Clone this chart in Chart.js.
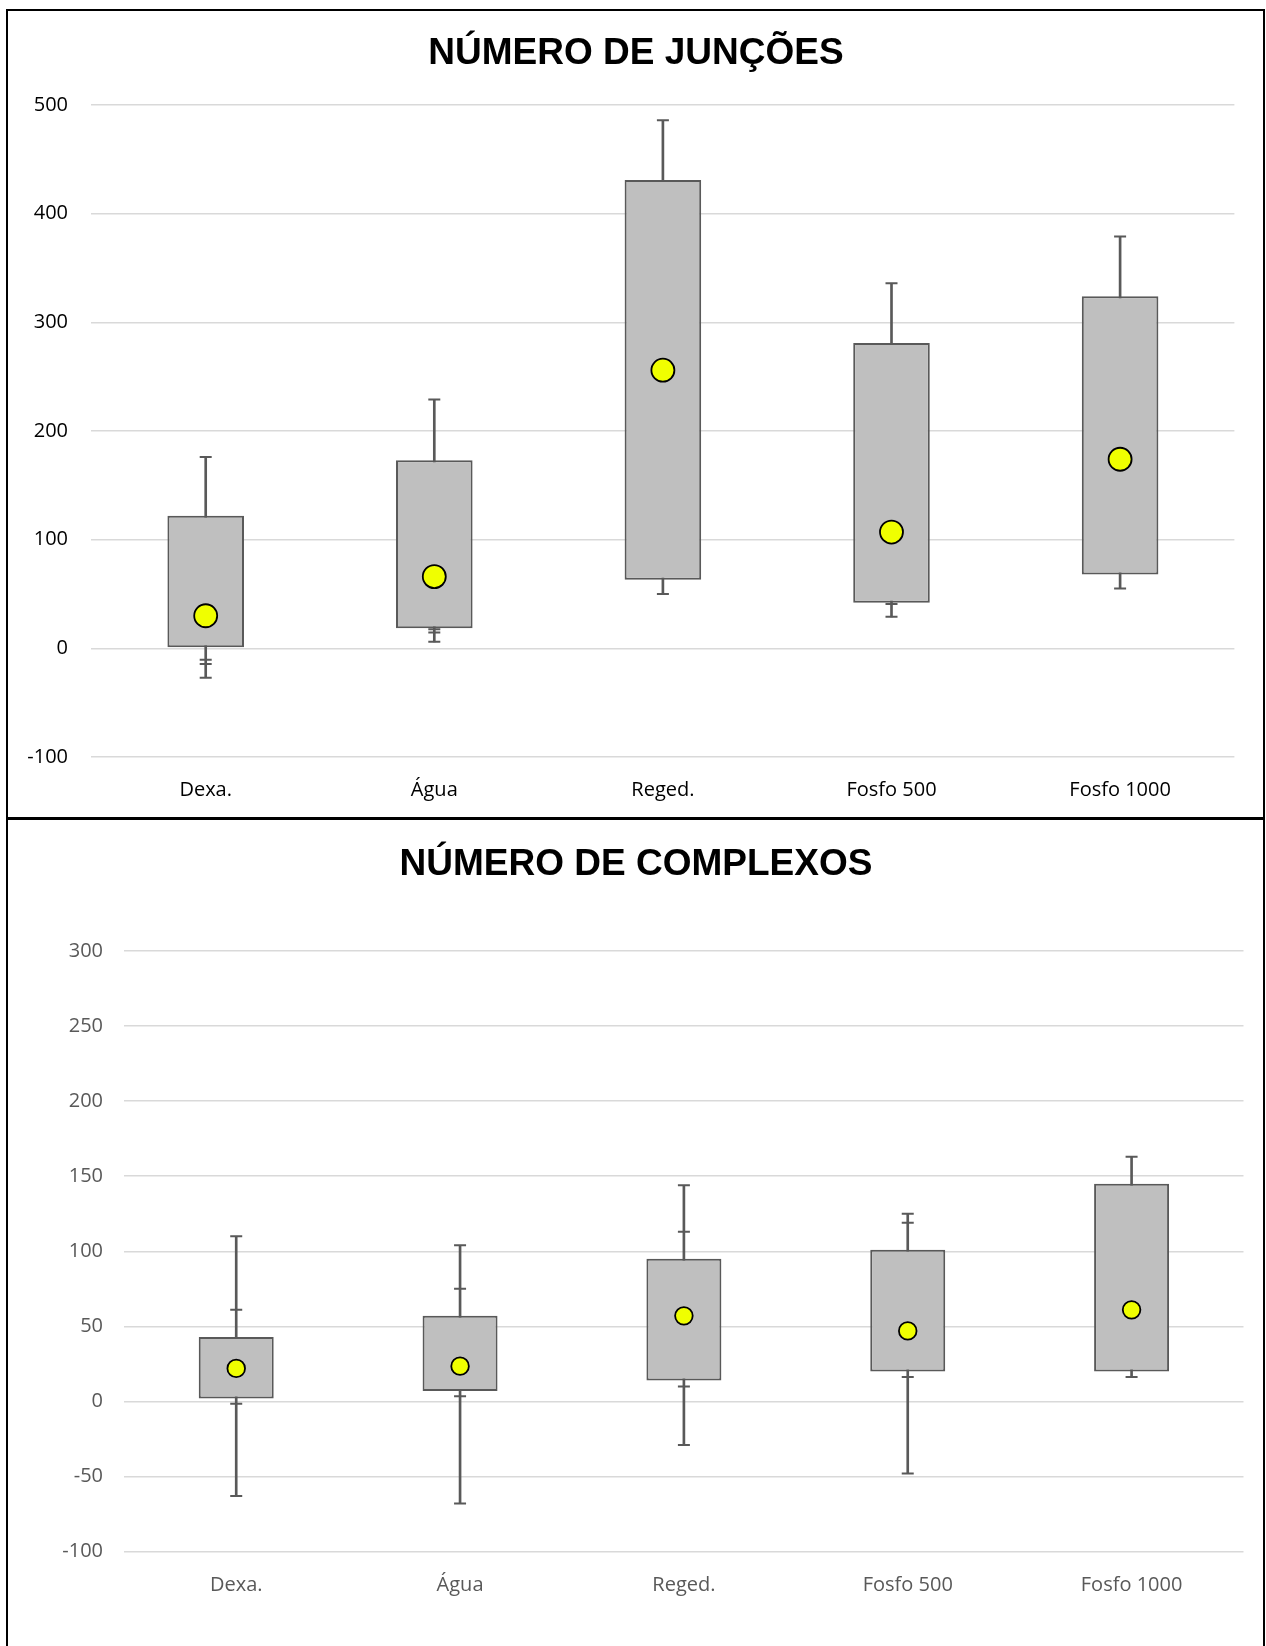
<!DOCTYPE html>
<html>
<head>
<meta charset="utf-8">
<script src="https://cdn.jsdelivr.net/npm/chart.js@4.4.1/dist/chart.umd.min.js"></script>
<style>
  body { margin: 0; background: #fff; width: 1266px; height: 1646px; overflow: hidden; position: relative; }
  .panel { position: absolute; left: 6px; width: 1259px; border: 2.7px solid #000; box-sizing: border-box; }
  canvas { position: absolute; left: 0; }
</style>
</head>
<body>
<div class="panel" style="top:8.5px;height:811.5px"></div>
<div class="panel" style="top:817.3px;height:840px"></div>
<canvas id="c1" width="1266" height="819" style="top:0"></canvas>
<canvas id="c2" width="1266" height="827" style="top:819px"></canvas>

<script>
// categories shared by both charts
const categories = ['Dexa.', 'Água', 'Reged.', 'Fosfo 500', 'Fosfo 1000'];

// Número de junções
const yTicks1 = [-100, 0, 100, 200, 300, 400, 500];
const whiskerHigh1 = [176, 229, 486, 336, 379];
const boxHigh1 = [122, 173, 431, 281, 324];
const mean1 = [30, 66, 256, 107, 174];
const boxLow1 = [1, 18.5, 63, 42, 68];
const whiskerLow1 = [-27, 6, 50, 29, 55];
const capsA1 = [-10.5, 17.5, null, 40.7, null];
const capsB1 = [-14.5, 14.5, null, null, null];

// Número de complexos
const yTicks2 = [-100, -50, 0, 50, 100, 150, 200, 250, 300];
const whiskerHigh2 = [110, 104, 144, 125, 163];
const boxHigh2 = [43, 57, 95, 101, 145];
const mean2 = [22, 23.5, 57, 47, 61];
const boxLow2 = [2, 7, 14, 20, 20];
const whiskerLow2 = [-63, -68, -29, -48, 16.3];
const capsA2 = [61, 75, 113, 119, null];
const capsB2 = [-1.5, 3.5, 10, 16.3, null];

const ink = '#595959';

// the titles sit centred on the whole panel, not on the padded layout box
const titleShift = {
  id: 'titleShift',
  afterLayout(chart, args, opts) {
    if (!chart.titleBlock) return;
    chart.titleBlock.left += opts.dx;
    chart.titleBlock.right += opts.dx;
  }
};

function caps(values) {
  return {
    type: 'line', data: values, showLine: false,
    pointStyle: 'line', pointRadius: 6, pointHoverRadius: 6,
    pointBorderColor: ink, pointBorderWidth: 2, borderColor: ink, order: 2
  };
}

function boxChart(id, o) {
  const tickFont = { family: 'Open Sans', size: 20 };
  return new Chart(document.getElementById(id), {
    type: 'bar',
    plugins: [titleShift],
    data: {
      labels: categories,
      datasets: [
        // mean dot on top
        { type: 'line', data: o.mean, showLine: false,
          pointRadius: o.dot, pointHoverRadius: o.dot,
          pointBackgroundColor: '#f0ff00', pointBorderColor: '#000',
          pointBorderWidth: 1.8, order: 0 },
        // box
        { data: o.boxLow.map((v, i) => [v, o.boxHigh[i]]),
          backgroundColor: '#bfbfbf', borderColor: ink, borderWidth: 2,
          borderSkipped: false, grouped: false,
          barPercentage: 0.335, categoryPercentage: 1, order: 1 },
        caps(o.whiskerHigh),
        caps(o.whiskerLow),
        caps(o.capsA),
        caps(o.capsB),
        // whisker line behind the box
        { data: o.whiskerLow.map((v, i) => [v, o.whiskerHigh[i]]),
          backgroundColor: ink, borderWidth: 0, barThickness: 2,
          grouped: false, order: 3 }
      ]
    },
    options: {
      responsive: false,
      animation: false,
      events: [],
      layout: { padding: { top: o.top, right: o.right, left: 0, bottom: 0 } },
      plugins: {
        legend: { display: false },
        tooltip: { enabled: false },
        titleShift: { dx: o.titleDx },
        title: {
          display: true, text: o.title, color: '#000',
          font: { family: 'Liberation Sans', size: 37, weight: 'bold' },
          padding: { top: 0, bottom: o.titleGap }
        }
      },
      scales: {
        x: {
          grid: { display: false },
          border: { display: false },
          ticks: { color: o.labelColor, font: tickFont, padding: o.xPad },
          afterFit: s => { s.height = o.xHeight; }
        },
        y: {
          min: o.ticks[0],
          max: o.ticks[o.ticks.length - 1],
          ticks: { stepSize: o.ticks[1] - o.ticks[0], color: o.labelColor, font: tickFont, padding: o.yPad },
          grid: { color: '#d9d9d9', lineWidth: 1.5, drawTicks: false },
          border: { display: false },
          afterFit: s => { s.width = o.left; }
        }
      }
    }
  });
}

boxChart('c1', {
  title: 'NÚMERO DE JUNÇÕES', ticks: yTicks1,
  whiskerHigh: whiskerHigh1, boxHigh: boxHigh1, mean: mean1, boxLow: boxLow1,
  whiskerLow: whiskerLow1, capsA: capsA1, capsB: capsB1,
  dot: 11.5, labelColor: '#000',
  top: 32, titleGap: 28.6, right: 31.6, left: 91.4, titleDx: 18.8,
  xHeight: 62, xPad: 13, yPad: 23.4
});

boxChart('c2', {
  title: 'NÚMERO DE COMPLEXOS', ticks: yTicks2,
  whiskerHigh: whiskerHigh2, boxHigh: boxHigh2, mean: mean2, boxLow: boxLow2,
  whiskerLow: whiskerLow2, capsA: capsA2, capsB: capsB2,
  dot: 8.8, labelColor: '#595959',
  top: 23.8, titleGap: 63.8, right: 22.5, left: 124.3, titleDx: 14.25,
  xHeight: 94.4, xPad: 13.4, yPad: 21.3
});
</script>
</body>
</html>
